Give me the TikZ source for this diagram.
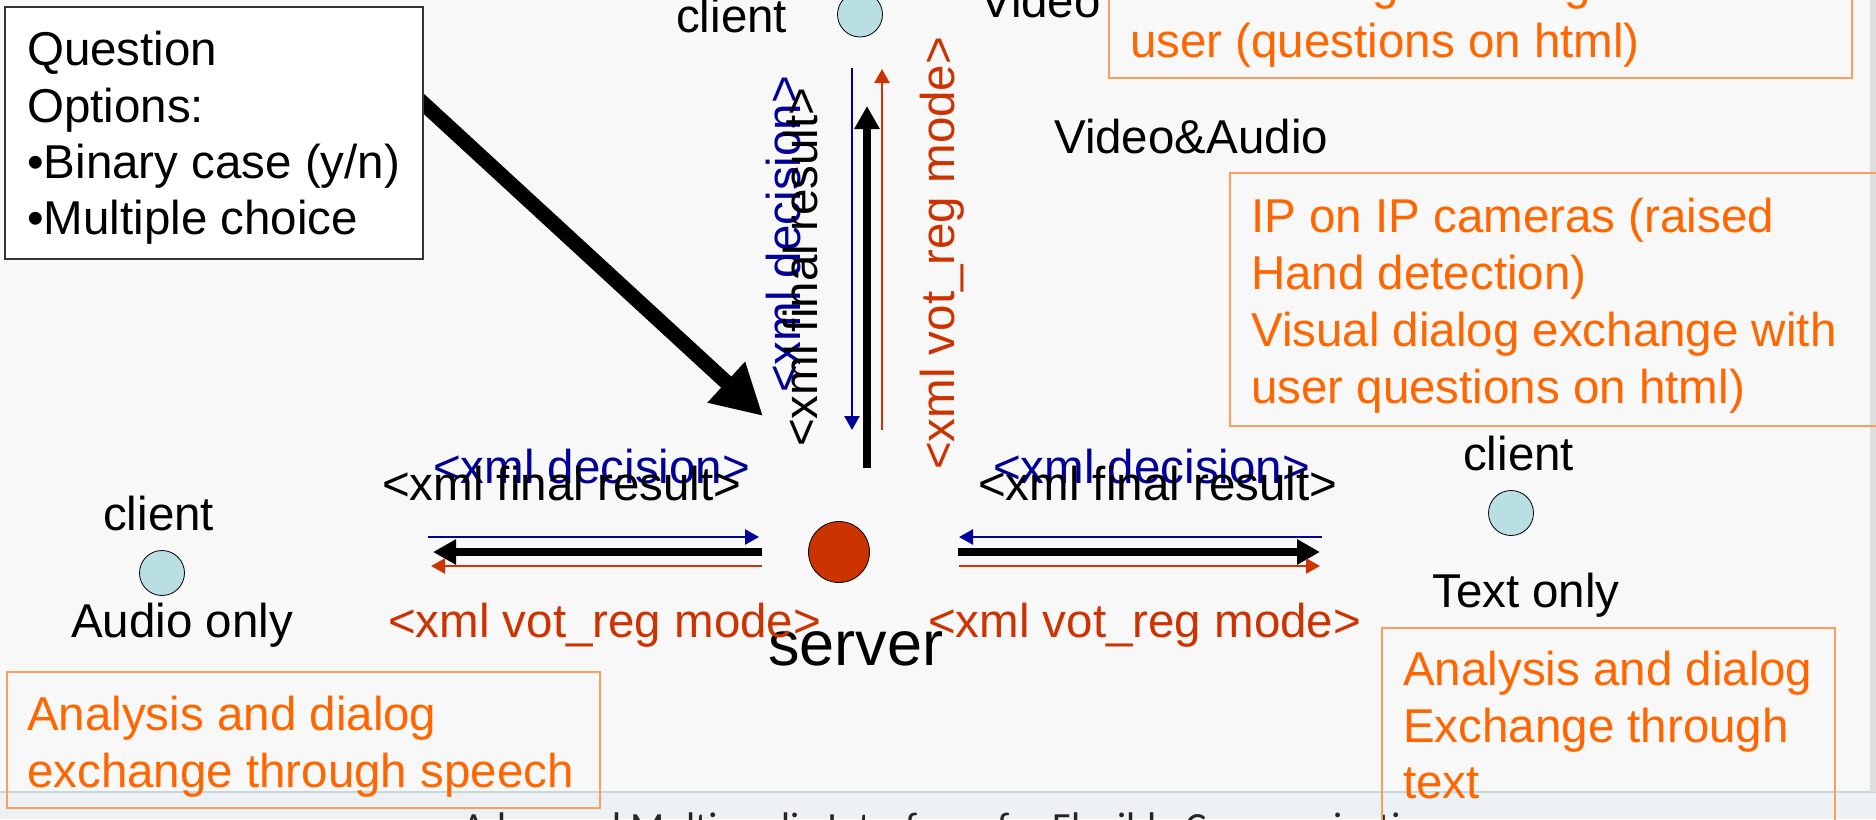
\documentclass[tikz,border=0pt]{standalone}
\usepackage{fontspec}
\setmainfont{Liberation Sans}
\newfontfamily\footfont{Carlito}
\usetikzlibrary{arrows.meta}
\definecolor{bg}{HTML}{F8F8F8}
\definecolor{org}{HTML}{FF6600}
\definecolor{orgline}{HTML}{FA9D5E}
\definecolor{rust}{HTML}{CC3300}
\definecolor{navy}{HTML}{000099}
\definecolor{cyanfill}{HTML}{B9DFE2}
\definecolor{footbg}{HTML}{EEF1F3}
\definecolor{footline}{HTML}{C6D7D8}
\definecolor{sidebar}{HTML}{DEDEDE}
\newcommand\fsz[1]{\fontsize{#1}{#1}\selectfont}
\begin{document}
\begin{tikzpicture}[x=1pt,y=-1pt,
  txt/.style={inner sep=0pt, anchor=base west, font=\fsz{47.5}, text=black},
  otxt/.style={txt, text=org},
  rtxt/.style={txt, text=rust},
  btxt/.style={txt, text=navy},
  obox/.style={draw=orgline, line width=1.5pt},
  qframe/.style={draw=black!80, line width=1.2pt, fill=white},
  clientdot/.style={circle, draw=black, line width=0.8pt, fill=cyanfill, minimum size=45pt, inner sep=0pt},
  serverdot/.style={circle, draw=black, line width=0.8pt, fill=rust, minimum size=61pt, inner sep=0pt},
  thinarr/.style={line width=2.5pt, -{Triangle[length=14pt,width=15pt]}},
  thickarr/.style={line width=8pt, -{Triangle[length=23pt,width=24pt]}},
  bigarr/.style={line width=15pt, -{Triangle[length=50pt,width=52pt]}}
]
\path[use as bounding box] (0,0) rectangle (1876,819);
\clip (0,0) rectangle (1876,819);
\fill[bg] (0,0) rectangle (1876,819);
% footer band
\fill[footbg] (0,792) rectangle (1876,819);
\draw[footline, line width=2pt] (0,792) -- (1876,792);
\fill[sidebar] (1870,0) rectangle (1876,792);
\node[inner sep=0pt, anchor=base west, font=\footfont\fsz{40}, text=black!85] (foot) at (462,840) {Advanced Multimedia Interfaces for Flexible Communication};

% big arrow and question box
\coordinate (qa) at (412,93);
\coordinate (qb) at (763,416);
\draw[bigarr] (qa) -- (qb);
\path[qframe] (5,7) rectangle (423,259);
\node[txt] (q1) at (27,65) {Question};
\node[txt] (q2) at (27,122) {Options:};
\node[txt] (q3) at (27,178) {•Binary case (y/n)};
\node[txt] (q4) at (27,234) {•Multiple choice};

% top client
\node[txt] (ctl) at (676,32) {client};
\node[clientdot] (ct) at (860,14.5) {};
\node[txt] (vid) at (980,17) {Video};
\node[txt] (va) at (1054,153) {Video\&Audio};

% upper orange box
\path[obox] (1109,-20) rectangle (1852,78);
\node[otxt] (u0) at (1130,-1) {Visual dialog exchange with};
\node[otxt] (u1) at (1130,57) {user (questions on html)};

% lower right orange box
\path[obox] (1230,173) rectangle (1890,426);
\node[otxt] (m1) at (1251,232) {IP on IP cameras (raised};
\node[otxt] (m2) at (1251,289) {Hand detection)};
\node[otxt] (m3) at (1251,346) {Visual dialog exchange with};
\node[otxt] (m4) at (1251,403) {user questions on html)};

% vertical arrows
\coordinate (vb1) at (852,68);  \coordinate (vb2) at (852,430);
\coordinate (vk1) at (867,468); \coordinate (vk2) at (867,106);
\coordinate (vr1) at (882,430); \coordinate (vr2) at (882,69);
\draw[thinarr, navy] (vb1) -- (vb2);
\draw[thickarr, black] (vk1) -- (vk2);
\draw[thinarr, rust] (vr1) -- (vr2);
\node[btxt, rotate=90] (vdec) at (800,393) {<xml decision>};
\node[txt, rotate=90] (vfin) at (817,447) {<xml final result>};
\node[rtxt, rotate=90] (vvot) at (954,470) {<xml vot\_reg mode>};

% server
\node[serverdot] (srv) at (839,552) {};
\node[txt, font=\fsz{63}] (srvl) at (768,665) {server};

% left client
\node[txt] (cll) at (103,530) {client};
\node[clientdot] (cl) at (162,573) {};
\node[txt] (ao) at (71,637) {Audio only};
\coordinate (lb1) at (428,537); \coordinate (lb2) at (759,537);
\coordinate (lk1) at (762,552); \coordinate (lk2) at (433,552);
\coordinate (lr1) at (762,566); \coordinate (lr2) at (431,566);
\draw[thinarr, navy] (lb1) -- (lb2);
\draw[thickarr, black] (lk1) -- (lk2);
\draw[thinarr, rust] (lr1) -- (lr2);
\node[btxt] (ldec) at (433,483) {<xml decision>};
\node[txt] (lfin) at (382,500) {<xml final result>};
\node[rtxt] (lvot) at (388,637) {<xml vot\_reg mode>};

% right client
\node[txt] (crl) at (1463,470) {client};
\node[clientdot] (cr) at (1511,513) {};
\node[txt] (to) at (1432,607) {Text only};
\coordinate (rb1) at (1322,537); \coordinate (rb2) at (959,537);
\coordinate (rk1) at (958,552);  \coordinate (rk2) at (1320,552);
\coordinate (rr1) at (959,566);  \coordinate (rr2) at (1320,566);
\draw[thinarr, navy] (rb1) -- (rb2);
\draw[thickarr, black] (rk1) -- (rk2);
\draw[thinarr, rust] (rr1) -- (rr2);
\node[btxt] (rdec) at (993,483) {<xml decision>};
\node[txt] (rfin) at (978,500) {<xml final result>};
\node[rtxt] (rvot) at (928,637) {<xml vot\_reg mode>};

% bottom left orange box
\path[obox] (7,672) rectangle (600,808);
\node[otxt] (bl1) at (27,730) {Analysis and dialog};
\node[otxt] (bl2) at (27,787) {exchange through speech};

% bottom right orange box
\path[obox] (1382,628) rectangle (1835,840);
\node[otxt] (br1) at (1403,685) {Analysis and dialog};
\node[otxt] (br2) at (1403,742) {Exchange through};
\node[otxt] (br3) at (1403,798) {text};
\end{tikzpicture}
\end{document}
